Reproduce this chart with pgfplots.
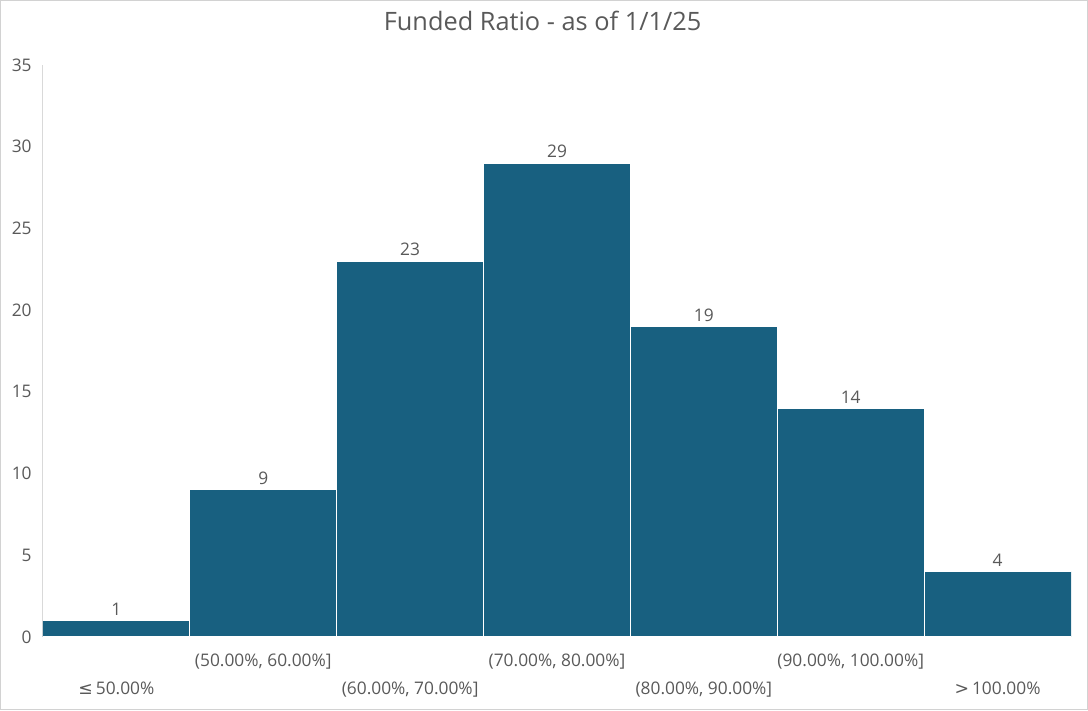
\documentclass[border=0pt]{standalone}
\usepackage{pgfplots}
\pgfplotsset{compat=1.18}
\usepackage{fontspec}
\setmainfont{Open Sans}
\newfontfamily\symfont{DejaVu Sans}
\definecolor{barblue}{RGB}{24,96,128}
\definecolor{txtgray}{RGB}{89,89,89}
\begin{document}
\begin{tikzpicture}
\path[use as bounding box] (0,0) rectangle (816pt,532.5pt);
\draw[gray!35, line width=0.75pt] (0.4pt,0.4pt) rectangle (815.6pt,532.1pt);
\begin{axis}[
  at={(32.25pt,54.75pt)}, anchor=south west,
  scale only axis, width=771pt, height=429pt,
  ybar, bar width=1, bar shift=0pt,
  xmin=-0.5, xmax=6.5, ymin=0, ymax=35,
  axis lines*=left,
  x axis line style={draw=none},
  y axis line style={draw=gray!30, line width=0.75pt},
  xtick=data, ytick={0,5,...,35},
  major tick length=0pt,
  xticklabels={
    {\strut\\{\symfont≤}\,50.00\%},
    {(50.00\%, 60.00\%]},
    {\strut\\(60.00\%, 70.00\%]},
    {(70.00\%, 80.00\%]},
    {\strut\\(80.00\%, 90.00\%]},
    {(90.00\%, 100.00\%]},
    {\strut\\{\symfont>}\,100.00\%}},
  xticklabel style={align=center, font=\fontsize{13}{18}\selectfont, text=txtgray, yshift=-9pt},
  yticklabel style={font=\fontsize{13}{16}\selectfont, text=txtgray, xshift=-5pt},
  /pgf/number format/assume math mode=true,
  title={Funded Ratio - as of 1/1/25},
  title style={at={(0.486,1)}, anchor=center, yshift=27pt,
    font=\fontsize{19}{22}\selectfont, text=txtgray},
  nodes near coords,
  nodes near coords style={font=\fontsize{13}{16}\selectfont, text=txtgray},
]
\addplot[fill=barblue, draw=white, line width=0.75pt] coordinates {
  (0,1) (1,9) (2,23) (3,29) (4,19) (5,14) (6,4)
};
\end{axis}
\end{tikzpicture}
\end{document}
